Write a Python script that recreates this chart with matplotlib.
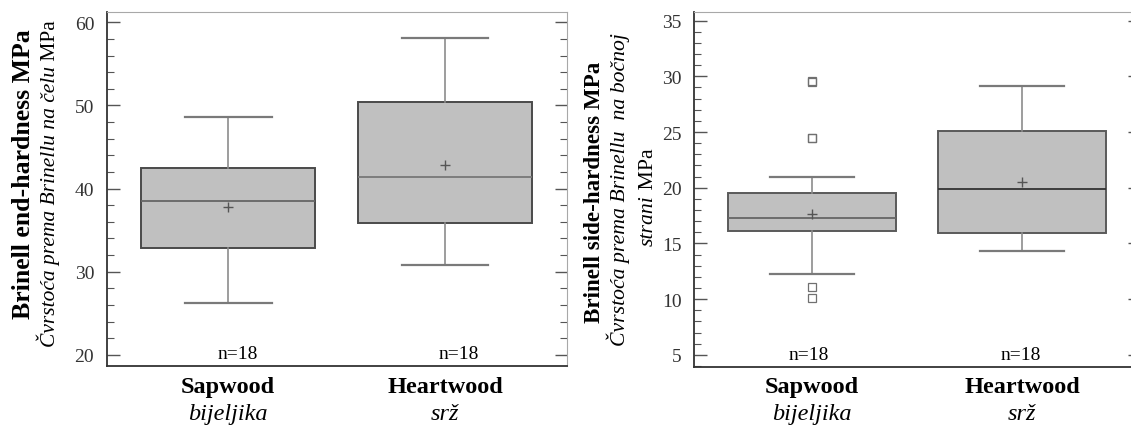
import matplotlib
matplotlib.use("Agg")
import matplotlib.pyplot as plt
from matplotlib.ticker import MultipleLocator
from matplotlib import transforms

plt.rcParams['font.family'] = ['Liberation Serif', 'DejaVu Serif']

# ---- data ----
categories = ["Sapwood", "Heartwood"]
categories_hr = ["bijeljika", "srž"]
n_labels = ["n=18", "n=18"]

# end hardness (left panel)
end_q1 = [32.9, 35.9]
end_med = [38.5, 41.4]
end_q3 = [42.5, 50.4]
end_whislo = [26.3, 30.8]
end_whishi = [48.6, 58.1]
end_mean = [37.8, 42.85]
end_fliers = [[], []]

# side hardness (right panel)
side_q1 = [16.15, 15.9]
side_med = [17.3, 19.85]
side_q3 = [19.5, 25.05]
side_whislo = [12.26, 14.3]
side_whishi = [21.0, 29.15]
side_mean = [17.65, 20.5]
side_fliers = [[29.6, 29.45, 24.5, 24.45, 11.07, 10.11], []]

W, H = 1131, 427
fig = plt.figure(figsize=(W / 100, H / 100), dpi=100)


def px_axes(l, t, r, b):
    return [l / W, 1 - b / H, (r - l) / W, (b - t) / H]


ax1 = fig.add_axes(px_axes(106.7, 13.3, 566.5, 366.7))
ax2 = fig.add_axes(px_axes(694.0, 13.3, 1140.0, 367.5))


def draw(ax, q1, med, q3, lo, hi, mean, fliers, ylim, major, minor, med_colors, edge):
    stats = []
    for i in range(len(categories)):
        stats.append(dict(q1=q1[i], med=med[i], q3=q3[i], whislo=lo[i],
                          whishi=hi[i], mean=mean[i], fliers=fliers[i],
                          label=categories[i]))
    bp = ax.bxp(stats, positions=[1, 2], widths=0.8, showmeans=True,
                patch_artist=True, showfliers=True,
                boxprops=dict(facecolor='#c0c0c0', edgecolor=edge, linewidth=1.4),
                whiskerprops=dict(color='#8c8c8c', linewidth=1.2),
                capprops=dict(color='#7a7a7a', linewidth=1.6),
                medianprops=dict(color='#666666', linewidth=1.3),
                meanprops=dict(marker='+', markersize=6.5, markeredgecolor='#555555',
                               markeredgewidth=1.0),
                flierprops=dict(marker='s', markersize=6, markerfacecolor='none',
                                markeredgecolor='#707070', markeredgewidth=0.9))
    for c, m in zip(med_colors, bp['medians']):
        m.set_color(c)
    ax.set_xlim(0.44, 2.56)
    ax.set_ylim(*ylim)
    ax.yaxis.set_major_locator(MultipleLocator(major))
    ax.yaxis.set_minor_locator(MultipleLocator(minor))
    ax.tick_params(axis='y', which='both', direction='in', left=True, right=True,
                   color='#555555', labelsize=14, labelcolor='#333333', pad=9)
    ax.tick_params(axis='y', which='major', length=9, width=1.0)
    ax.tick_params(axis='y', which='minor', length=5, width=0.8)
    ax.tick_params(axis='x', which='both', bottom=False, top=False, labelbottom=False)
    ax.spines['left'].set_color('#333333')
    ax.spines['bottom'].set_color('#333333')
    ax.spines['left'].set_linewidth(1.3)
    ax.spines['bottom'].set_linewidth(1.3)
    ax.spines['top'].set_color('#a8a8a8')
    ax.spines['right'].set_color('#a8a8a8')
    tr = transforms.blended_transform_factory(ax.transData, fig.transFigure)
    for i, (c, hr) in enumerate(zip(categories, categories_hr)):
        ax.text(i + 1, 1 - 393.3 / H, c, transform=tr, ha='center',
                va='baseline', fontsize=17.5, fontweight='bold')
        ax.text(i + 1, 1 - 420.5 / H, hr, transform=tr, ha='center',
                va='baseline', fontsize=17.5, style='italic')
    return bp


draw(ax1, end_q1, end_med, end_q3, end_whislo, end_whishi, end_mean, end_fliers,
     (18.7, 61.2), 10, 2, ['#666666', '#777777'], '#4a4a4a')
draw(ax2, side_q1, side_med, side_q3, side_whislo, side_whishi, side_mean, side_fliers,
     (3.95, 35.75), 5, 1, ['#666666', '#333333'], '#5a5a5a')

# n labels
for x, t in zip([1.042, 2.062], n_labels):
    ax1.text(x, 0.035, t, transform=ax1.get_xaxis_transform(), ha='center',
             va='center', fontsize=14)
for x, t in zip([0.986, 1.993], n_labels):
    ax2.text(x, 0.035, t, transform=ax2.get_xaxis_transform(), ha='center',
             va='center', fontsize=14)

renderer = fig.canvas.get_renderer()


def measure(parts, size):
    total = 0.0
    for s, kw in parts:
        t = fig.text(0, 0, s, rotation=90, rotation_mode='anchor', ha='left',
                     va='baseline', fontsize=size, **kw)
        total += t.get_window_extent(renderer).height
        t.remove()
    return total


def rot_line(parts, xb, yc, size=None, target=None):
    if size is None:
        size = 10 * target / measure(parts, 10)
    total = measure(parts, size)
    y = (H - yc) - total / 2.0  # display px from bottom
    for s, kw in parts:
        t = fig.text(xb / W, y / H, s, rotation=90, rotation_mode='anchor',
                     ha='left', va='baseline', fontsize=size, **kw)
        y += t.get_window_extent(renderer).height
    return size


BOLD = dict(fontweight='bold')
ITAL = dict(style='italic')
REG = dict()

# left y label
rot_line([("Brinell end-hardness MPa", BOLD)], 30, 174, target=290)
rot_line([("Čvrstoća prema Brinellu na čelu", ITAL), (" MPa", REG)], 55, 183.5, target=327)

# right y label
rot_line([("Brinell side-hardness MPa", BOLD)], 600, 192.5, target=261)
s2 = rot_line([("Čvrstoća prema Brinellu  na bočnoj", ITAL)], 625, 190, target=313)
rot_line([("strani", ITAL), (" MPa", REG)], 653, 197.5, size=s2)

fig.savefig("out.png", dpi=100)
